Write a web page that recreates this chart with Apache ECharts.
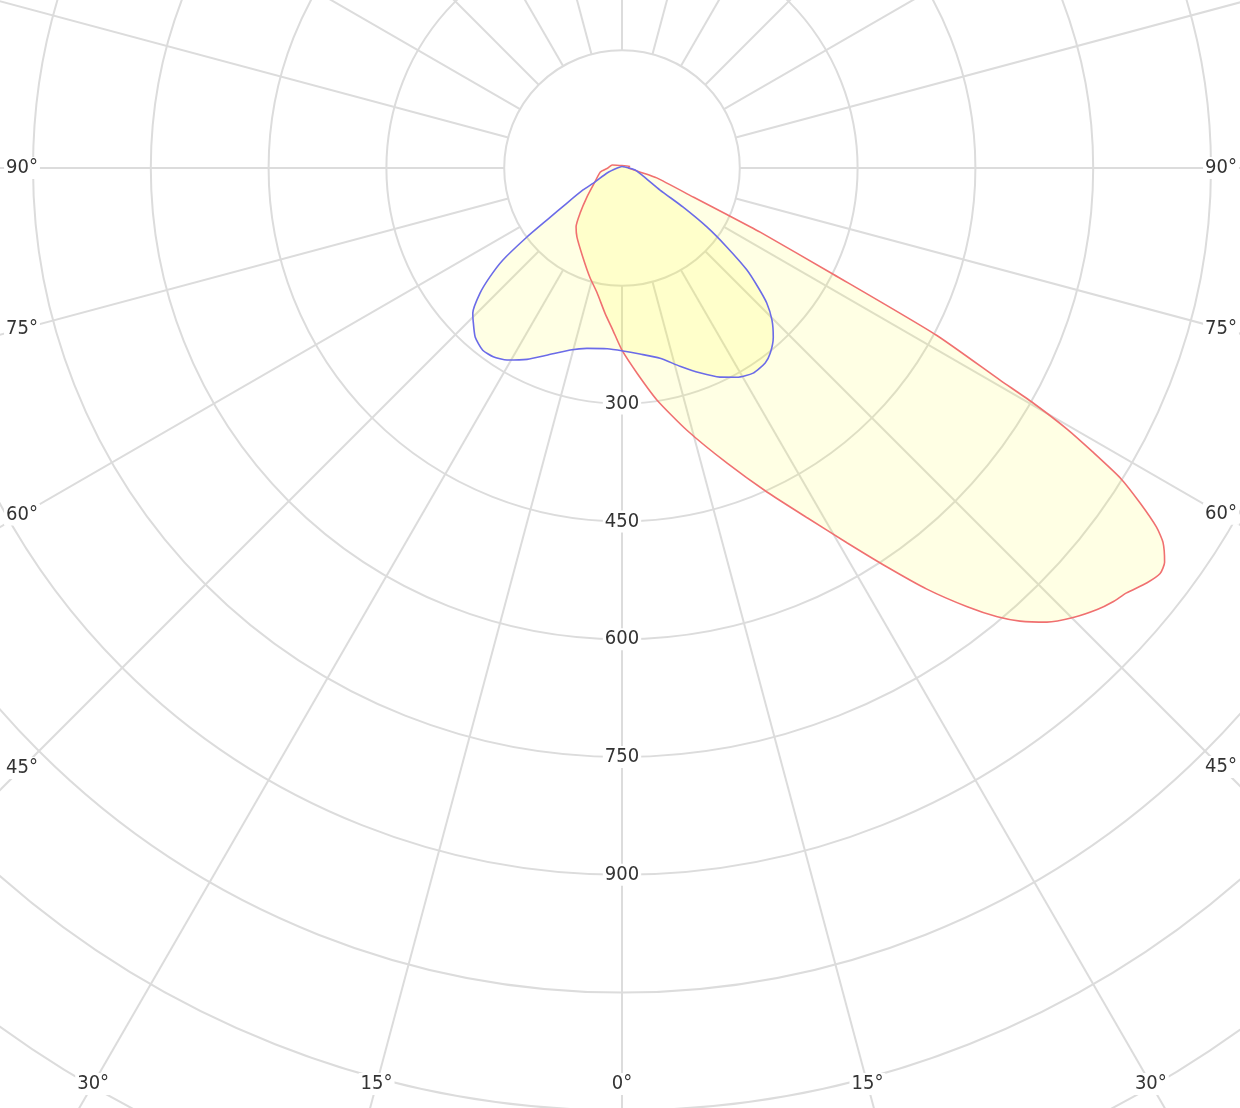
<!DOCTYPE html>
<html>
<head>
<meta charset="utf-8">
<script src="https://cdn.jsdelivr.net/npm/echarts@6/dist/echarts.min.js"></script>
<style>
html,body{margin:0;padding:0;background:#ffffff;}
#chart{width:1240px;height:1108px;}
</style>
</head>
<body>
<div id="chart"></div>
<script>
// ---- data ----
// radius ring labels (cd) shown on the 0° spoke
const radiusTicks = [300, 450, 600, 750, 900];
// angle labels (signed: negative = left side, positive = right side)
const angleLabels = [-90, -75, -60, -45, -30, -15, 0, 15, 30, 45, 60, 75, 90];
// grid spokes every 15°
const spokeAngles = [0, 15, 30, 45, 60, 75, 90, 105, 120, 135, 150, 165, 180, 195, 210, 225, 240, 255, 270, 285, 300, 315, 330, 345];

// red curve (C0-C180 plane): signed gamma angle, intensity
const redAngle = [90, 77.5, 74.1, 67.8, 66.1, 65.1, 63.3, 62.0, 60.7, 60.25, 59.6, 58.9, 58.1, 57.1, 56.1, 55.3, 54.0, 53.0, 51.7, 49.9, 48.5, 47.1, 45.1, 43.1, 41.3, 39.9, 38.2, 35.9, 33.6, 31.0, 27.9, 24.1, 19.6, 13.9, 8.6, 4.2, 0, -3.2, -6.7, -11.3, -16.4, -23.7, -33.1, -38.0, -43.0, -50.4, -62.6, -79.7, -90, -107, 180, 104, 90];
const redIntensity = [8, 23, 46, 98, 146, 194, 301, 453, 552, 603, 657, 700, 748, 786, 820, 838, 854, 858, 852, 840, 834, 826, 811, 792, 768, 745, 711, 662, 610, 557, 504, 452, 399, 344, 299, 262, 232, 207, 186, 162, 145, 124, 105, 95, 78, 58, 39, 28, 18, 13, 3, 10, 8];

// blue curve (C90-C270 plane)
const blueAngle = [108, 81.3, 69.1, 59.9, 57.4, 55.2, 53.0, 50.8, 48.8, 47.0, 44.6, 41.8, 38.7, 36.3, 32.6, 28.8, 25.1, 20.8, 16.3, 11.3, 5.5, 0.3, -4.7, -11.0, -15.9, -21.9, -26.4, -30.9, -34.3, -37.4, -41.0, -44.4, -45.8, -48.6, -50.5, -52.3, -54.0, -55.3, -57.5, -60.6, -62.6, -71.6, -90, 180, 108];
const blueIntensity = [4, 17, 29, 56, 92, 132, 167, 205, 230, 252, 272, 289, 302, 308, 310, 304, 294, 279, 263, 247, 238, 233, 231, 234, 241, 257, 272, 285, 291, 292, 285, 271, 265, 241, 218, 192, 150, 116, 83, 57, 39, 20, 6, 2, 4];

// ---- helpers ----
const toAxis = a => ((a % 360) + 360) % 360;
const FONT = '"DejaVu Sans Condensed", "Liberation Sans", sans-serif';
const GRID = '#dcdcdc';
const SPOKE_INNER = 150;
const R_MAX = 1500;

const chart = echarts.init(document.getElementById('chart'), null, {renderer: 'canvas'});

const option = {
  animation: false,
  backgroundColor: '#ffffff',
  polar: { center: [622, 168], radius: 1178 },
  angleAxis: {
    type: 'value', min: 0, max: 360, startAngle: -90, clockwise: false,
    axisLine: {show: false}, axisTick: {show: false}, axisLabel: {show: false},
    splitLine: {show: false}
  },
  radiusAxis: {
    type: 'value', min: 0, max: R_MAX, interval: 150,
    axisLine: {show: false}, axisTick: {show: false}, axisLabel: {show: false},
    splitLine: {show: true, lineStyle: {color: GRID, width: 2}}
  },
  series: [
    {
      name: 'spokes', type: 'custom', coordinateSystem: 'polar', silent: true,
      data: spokeAngles.map(a => [SPOKE_INNER, a]),
      renderItem: function (params, api) {
        const a = api.value(1);
        const p1 = api.coord([SPOKE_INNER, a]);
        const p2 = api.coord([R_MAX, a]);
        return {type: 'line', shape: {x1: p1[0], y1: p1[1], x2: p2[0], y2: p2[1]},
                style: {stroke: GRID, lineWidth: 2}};
      }
    },
    {
      name: 'C0-C180', type: 'line', coordinateSystem: 'polar',
      data: redAngle.map((a, i) => [redIntensity[i], toAxis(a)]),
      showSymbol: false, smooth: 0.2, silent: true,
      lineStyle: {color: '#f07070', width: 1.6},
      areaStyle: {color: 'rgba(255,255,0,0.15)'}
    },
    {
      name: 'C90-C270', type: 'line', coordinateSystem: 'polar',
      data: blueAngle.map((a, i) => [blueIntensity[i], toAxis(a)]),
      showSymbol: false, smooth: 0.2, silent: true,
      lineStyle: {color: '#6b6be8', width: 1.6},
      areaStyle: {color: 'rgba(255,255,0,0.15)'}
    },
    {
      name: 'radiusLabels', type: 'custom', coordinateSystem: 'polar', silent: true,
      data: radiusTicks.map(v => [v, 0]),
      renderItem: function (params, api) {
        const p = api.coord([api.value(0), api.value(1)]);
        return {type: 'text', x: p[0], y: p[1],
                style: {text: String(radiusTicks[params.dataIndex]), fill: '#333', fontSize: 20, fontFamily: FONT,
                        align: 'center', verticalAlign: 'middle', backgroundColor: '#ffffff', padding: [1, 2]}};
      }
    },
    {
      name: 'angleLabels', type: 'custom', coordinateSystem: 'polar', silent: true,
      data: angleLabels.map(a => [1000, toAxis(a)]),
      renderItem: function (params, api) {
        const a = api.value(1);
        const c = api.coord([0, a]);
        const f = api.coord([1000, a]);
        let dx = f[0] - c[0], dy = f[1] - c[1];
        const len = Math.sqrt(dx * dx + dy * dy);
        dx /= len; dy /= len;
        const left = 22, right = api.getWidth() - 19, bottom = api.getHeight() - 24;
        let t = Infinity;
        if (dx > 1e-6) t = Math.min(t, (right - c[0]) / dx);
        if (dx < -1e-6) t = Math.min(t, (left - c[0]) / dx);
        if (dy > 1e-6) t = Math.min(t, (bottom - c[1]) / dy);
        const x = c[0] + dx * t, y = c[1] + dy * t;
        return {type: 'text', x: x, y: y,
                style: {text: Math.abs(angleLabels[params.dataIndex]) + '°', fill: '#333', fontSize: 20, fontFamily: FONT,
                        align: 'center', verticalAlign: 'middle', backgroundColor: '#ffffff', padding: [1, 2]}};
      }
    }
  ]
};
chart.setOption(option);
</script>
</body>
</html>
